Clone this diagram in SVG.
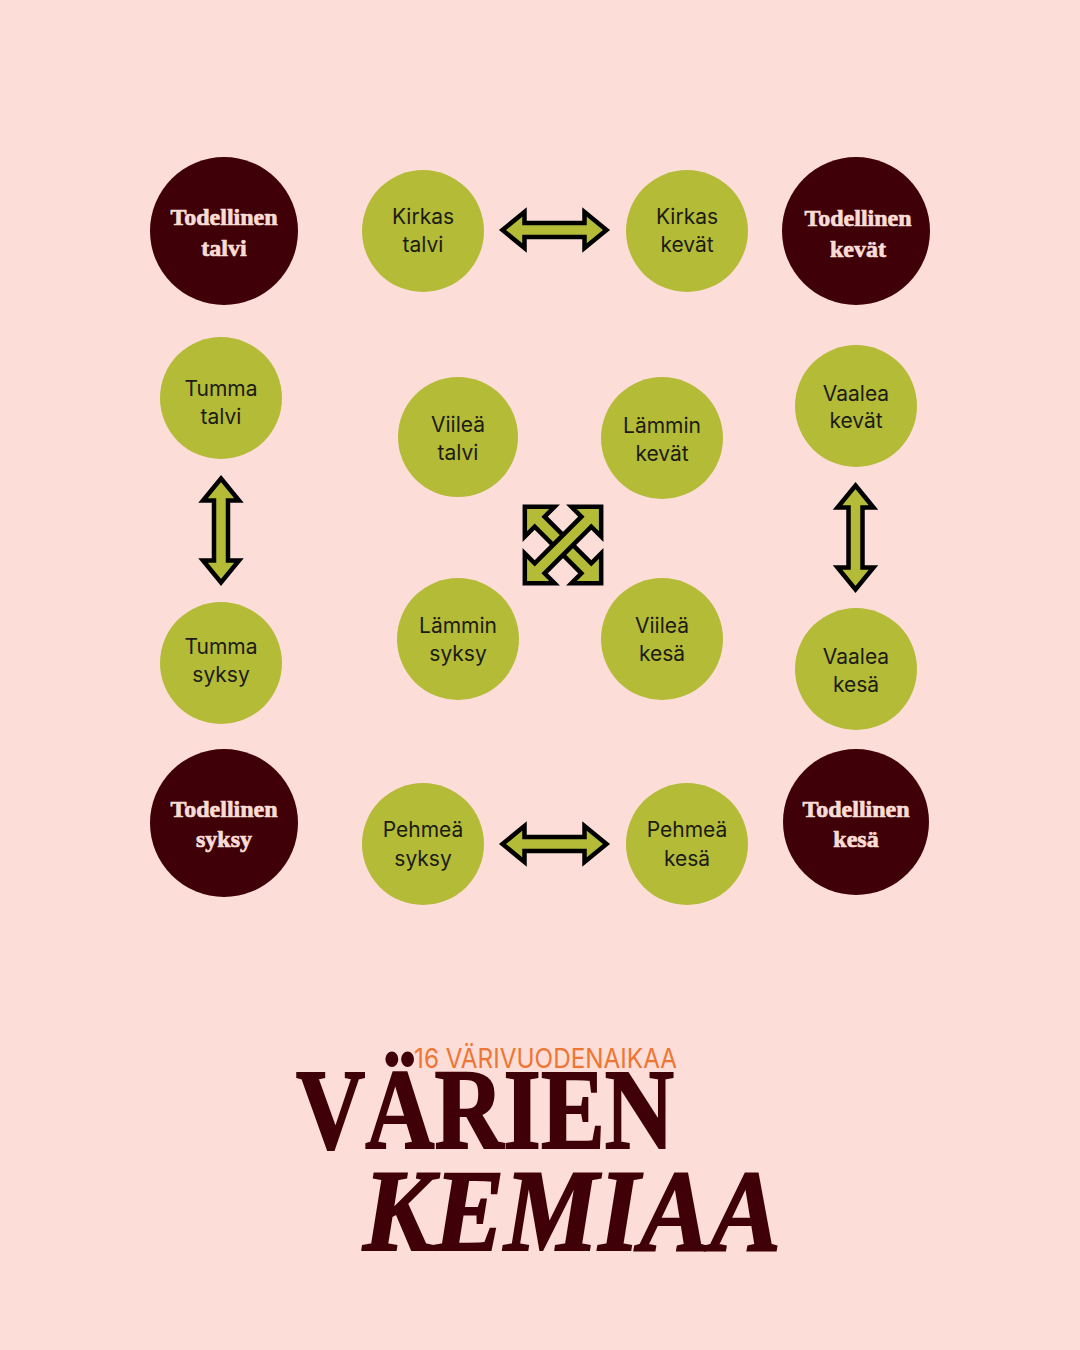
<svg xmlns="http://www.w3.org/2000/svg" xmlns:xlink="http://www.w3.org/1999/xlink" width="1080" height="1350" viewBox="0 0 1080 1350">
<defs>
<style>
.g{fill:#B3BB37}
.d{fill:#3F0007}
.gt{font-family:Inter,"Noto Sans","Liberation Sans",sans-serif;font-size:21px;fill:#1C1C14;text-anchor:middle}
.dt{font-family:"Liberation Serif","DejaVu Serif",serif;font-weight:bold;font-size:24px;fill:#F8DCD5;stroke:#F8DCD5;stroke-width:0.7px;text-anchor:middle}
.ttl{font-family:"Liberation Serif","DejaVu Serif",serif;font-weight:bold;fill:#3F0007;stroke:#3F0007;stroke-width:2px}
.arr{fill:#B3BB37;stroke:#000;stroke-width:4.5;stroke-linejoin:miter}
</style>
<path id="dbl" d="M-52 0 L-30 -18 L-30 -7 L30 -7 L30 -18 L52 0 L30 18 L30 7 L-30 7 L-30 18 Z"/>
<path id="xar" d="M-54 0 L-33 -21 L-33 -7 L33 -7 L33 -21 L54 0 L33 21 L33 7 L-33 7 L-33 21 Z"/>
</defs>
<rect width="1080" height="1350" fill="#FCDDD8"/>

<g id="connectors">
<use xlink:href="#dbl" class="arr" transform="translate(554.5 230)"/>
<use xlink:href="#dbl" class="arr" transform="translate(554.5 844)"/>
<use xlink:href="#dbl" class="arr" transform="translate(221 530.5) rotate(90)"/>
<use xlink:href="#dbl" class="arr" transform="translate(855.5 537.5) rotate(90)"/>
<use xlink:href="#xar" class="arr" transform="translate(563 545) rotate(45)"/>
<use xlink:href="#xar" class="arr" transform="translate(563 545) rotate(-45)"/>
</g>

<g id="todellinen-talvi"><circle class="d" cx="224" cy="231" r="74"/><text class="dt" x="224" y="225">Todellinen</text><text class="dt" x="224" y="256">talvi</text></g>
<g id="kirkas-talvi"><circle class="g" cx="423" cy="231" r="61"/><text class="gt" x="423" y="224">Kirkas</text><text class="gt" x="423" y="252">talvi</text></g>
<g id="kirkas-kevat"><circle class="g" cx="687" cy="231" r="61"/><text class="gt" x="687" y="224">Kirkas</text><text class="gt" x="687" y="252">kevät</text></g>
<g id="todellinen-kevat"><circle class="d" cx="856" cy="231" r="74"/><text class="dt" x="858" y="226">Todellinen</text><text class="dt" x="858" y="257">kevät</text></g>

<g id="tumma-talvi"><circle class="g" cx="221" cy="398" r="61"/><text class="gt" x="221" y="396">Tumma</text><text class="gt" x="221" y="424">talvi</text></g>
<g id="viilea-talvi"><circle class="g" cx="458" cy="437" r="60"/><text class="gt" x="458" y="432">Viileä</text><text class="gt" x="458" y="460">talvi</text></g>
<g id="lammin-kevat"><circle class="g" cx="662" cy="438" r="61"/><text class="gt" x="662" y="433">Lämmin</text><text class="gt" x="662" y="461">kevät</text></g>
<g id="vaalea-kevat"><circle class="g" cx="856" cy="406" r="61"/><text class="gt" x="856" y="401">Vaalea</text><text class="gt" x="856" y="428">kevät</text></g>

<g id="tumma-syksy"><circle class="g" cx="221" cy="663" r="61"/><text class="gt" x="221" y="654">Tumma</text><text class="gt" x="221" y="682">syksy</text></g>
<g id="lammin-syksy"><circle class="g" cx="458" cy="639" r="61"/><text class="gt" x="458" y="633">Lämmin</text><text class="gt" x="458" y="661">syksy</text></g>
<g id="viilea-kesa"><circle class="g" cx="662" cy="639" r="61"/><text class="gt" x="662" y="633">Viileä</text><text class="gt" x="662" y="661">kesä</text></g>
<g id="vaalea-kesa"><circle class="g" cx="856" cy="669" r="61"/><text class="gt" x="856" y="664">Vaalea</text><text class="gt" x="856" y="692">kesä</text></g>

<g id="todellinen-syksy"><circle class="d" cx="224" cy="823" r="74"/><text class="dt" x="224" y="817">Todellinen</text><text class="dt" x="224" y="847">syksy</text></g>
<g id="pehmea-syksy"><circle class="g" cx="423" cy="844" r="61"/><text class="gt" x="423" y="837">Pehmeä</text><text class="gt" x="423" y="866">syksy</text></g>
<g id="pehmea-kesa"><circle class="g" cx="687" cy="844" r="61"/><text class="gt" x="687" y="837">Pehmeä</text><text class="gt" x="687" y="866">kesä</text></g>
<g id="todellinen-kesa"><circle class="d" cx="856" cy="822" r="73"/><text class="dt" x="856" y="817">Todellinen</text><text class="dt" x="856" y="847">kesä</text></g>

<g id="title">
<text class="ttl" x="296" y="1148" textLength="378" lengthAdjust="spacingAndGlyphs" font-size="114">VÄRIEN</text>
<text x="414" y="1068" textLength="263" lengthAdjust="spacingAndGlyphs" font-family="Inter,'Noto Sans','Liberation Sans',sans-serif" font-size="27" fill="#EE7632">16 VÄRIVUODENAIKAA</text>
<text class="ttl" x="363" y="1250" textLength="418" lengthAdjust="spacingAndGlyphs" font-style="italic" font-size="116">KEMIAA</text>
</g>
</svg>
